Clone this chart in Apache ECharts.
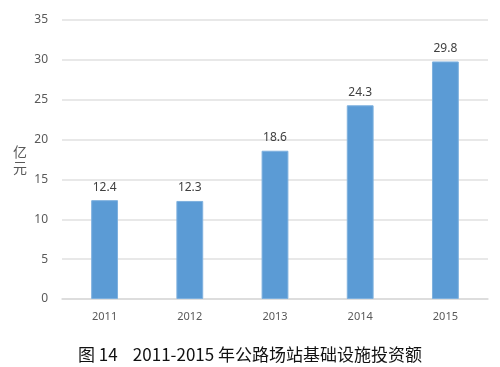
<!DOCTYPE html>
<html><head><meta charset="utf-8">
<script src="https://cdn.jsdelivr.net/npm/echarts@6/dist/echarts.min.js"></script>
<style>html,body{margin:0;padding:0;background:#fff}#c{width:500px;height:367px}</style>
</head><body><div id="c"></div>
<script>
const categories = ['2011','2012','2013','2014','2015'];
const values = [12.4, 12.3, 18.6, 24.3, 29.8];
const yTicks = [0,5,10,15,20,25,30,35];
const yName = '亿元';
const title = '图 14    2011-2015 年公路场站基础设施投资额';

const chart = echarts.init(document.getElementById('c'));
chart.setOption({
  animation: false,
  title: {
    text: title, left: 'center', top: 341,
    textStyle: {fontFamily: 'Noto Sans CJK SC', fontSize: 17, fontWeight: 'normal', color: '#111'}
  },
  graphic: [{
    type: 'text', left: 13, top: 144,
    style: {text: yName.split('').join('\n'), fill: '#595959', fontSize: 14, lineHeight: 16,
      fontFamily: 'Noto Sans CJK SC'}
  }],
  grid: {left: 62, right: 12, top: 20, bottom: 68},
  xAxis: {
    type: 'category', data: categories,
    axisLine: {lineStyle: {color: '#d9d9d9', width: 1.5}},
    axisTick: {show: false},
    axisLabel: {color: '#595959', fontSize: 11, fontFamily: 'Noto Sans', margin: 12}
  },
  yAxis: {
    type: 'value', min: yTicks[0], max: yTicks[yTicks.length-1], interval: 5,
    axisLine: {show: false}, axisTick: {show: false},
    axisLabel: {color: '#595959', fontSize: 12, fontFamily: 'Noto Sans', margin: 14},
    splitLine: {lineStyle: {color: '#e0e0e0', width: 1.5}}
  },
  series: [{
    type: 'bar', data: values, barWidth: '31.5%',
    itemStyle: {color: '#5b9bd5', borderColor: '#7fb1df', borderWidth: 1},
    label: {show: true, position: 'top', distance: 7, color: '#404040', fontSize: 12, fontFamily: 'Noto Sans'}
  }]
});
</script></body></html>
